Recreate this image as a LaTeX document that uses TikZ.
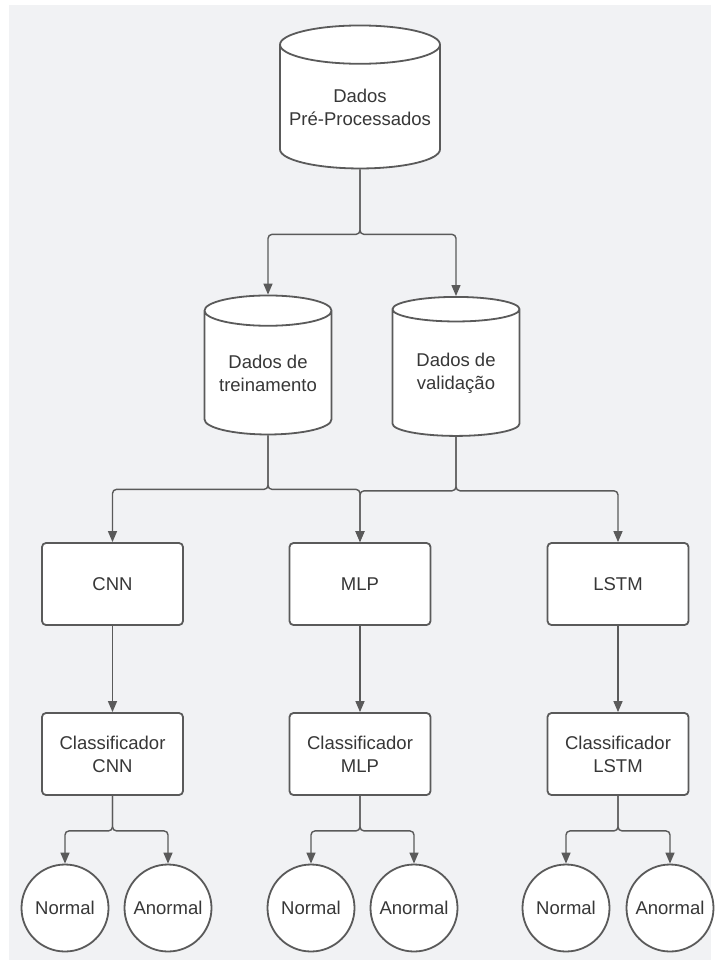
\documentclass[tikz,border=0pt]{standalone}
\usepackage{fontspec}
\setmainfont{Liberation Sans}
\usetikzlibrary{arrows.meta,positioning,shapes.geometric}
\definecolor{linegray}{RGB}{90,90,90}
\definecolor{bggray}{RGB}{241,242,244}
\definecolor{txtgray}{RGB}{55,55,55}

\begin{document}
\begin{tikzpicture}[x=1pt, y=-1pt, font=\fontsize{18.5}{23}\selectfont, text=txtgray,
db/.style={cylinder, shape border rotate=90, aspect=0.3, draw=linegray, line width=1.8pt, fill=white, align=center, inner sep=0pt},
box/.style={draw=linegray, line width=1.8pt, fill=white, rounded corners=4pt, minimum width=141pt, minimum height=82pt, align=center},
res/.style={circle, draw=linegray, line width=1.8pt, fill=white, minimum size=87pt, inner sep=0pt},
arrow/.style={-{Triangle[length=11pt,width=9pt]}, line width=1.4pt, draw=linegray, rounded corners=4pt}]
\fill[bggray] (9,5) rectangle (711,960);
\useasboundingbox (0,0) rectangle (716,963);
% bases de dados
\node[db, aspect=0.27, minimum width=160pt, minimum height=143pt] (pre) at (360,107) {Dados\\Pré-Processados};
\node[db, aspect=0.31, minimum width=127pt, minimum height=139pt] (train) at (268,373) {Dados de\\treinamento};
\node[db, aspect=0.31, minimum width=127pt, minimum height=139pt] (val) at (456,373) {Dados de\\validação};
% modelos
\node[box] (cnn) at (112.5,584) {CNN};
\node[box] (mlp) at (360,584) {MLP};
\node[box] (lstm) at (618,584) {LSTM};
\node[box] (ccnn) at (112.5,754) {Classificador\\CNN};
\node[box] (cmlp) at (360,754) {Classificador\\MLP};
\node[box] (clstm) at (618,754) {Classificador\\LSTM};
% saidas
\node[res] (n1) at (65,908) {Normal};
\node[res] (a1) at (168,908) {Anormal};
\node[res] (n2) at (311,908) {Normal};
\node[res] (a2) at (414,908) {Anormal};
\node[res] (n3) at (566,908) {Normal};
\node[res] (a3) at (670,908) {Anormal};
\draw[arrow] (pre.south) -- ++(0,65) -| (train.north);
\draw[arrow] (pre.south) -- ++(0,65) -| (val.north);
\draw[arrow] (train.south) -- ++(0,54) -| (cnn.north);
\draw[arrow] (train.south) -- ++(0,54) -| (mlp.north);
\draw[arrow] (val.south) -- ++(0,54) -| (mlp.north);
\draw[arrow] (val.south) -- ++(0,54) -| (lstm.north);
\draw[arrow] (cnn) -- (ccnn);
\draw[arrow] (mlp) -- (cmlp);
\draw[arrow] (lstm) -- (clstm);
\draw[arrow] (ccnn.south) -- ++(0,35) -| (n1.north);
\draw[arrow] (ccnn.south) -- ++(0,35) -| (a1.north);
\draw[arrow] (cmlp.south) -- ++(0,35) -| (n2.north);
\draw[arrow] (cmlp.south) -- ++(0,35) -| (a2.north);
\draw[arrow] (clstm.south) -- ++(0,35) -| (n3.north);
\draw[arrow] (clstm.south) -- ++(0,35) -| (a3.north);
\end{tikzpicture}
\end{document}
